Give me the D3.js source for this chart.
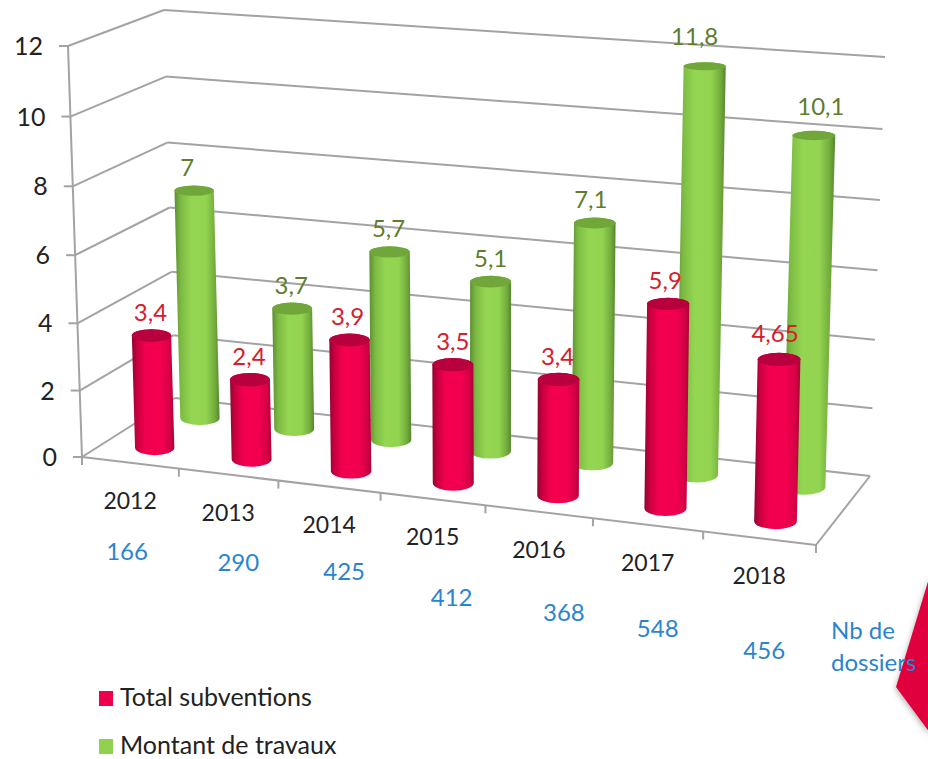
<!DOCTYPE html>
<html>
<head>
<meta charset="utf-8">
<script src="https://cdn.jsdelivr.net/npm/d3@7"></script>
<style>
  html, body { margin: 0; padding: 0; background: #fff; }
  text { font-family: Lato, "Open Sans", sans-serif; }
</style>
</head>
<body>
<div id="chart"></div>
<script>
// data
var years = ["2012", "2013", "2014", "2015", "2016", "2017", "2018"];
var subventions = [3.4, 2.4, 3.9, 3.5, 3.4, 5.9, 4.65];
var travaux = [7, 3.7, 5.7, 5.1, 7.1, 11.8, 10.1];
var dossiers = [166, 290, 425, 412, 368, 548, 456];
var valueTicks = [0, 2, 4, 6, 8, 10, 12];
var legendLabels = ["Total subventions", "Montant de travaux"];

var width = 928, height = 759;

// corners of the 3D box as they land on the page: [floor, top]
var box = {
  frontLeft:  [[82, 457], [68, 46]],
  frontRight: [[816, 545], [826, 113]],
  backLeft:   [[175, 398], [164, 10]],
  backRight:  [[870, 476], [885, 57]]
};

var x = d3.scaleBand().domain(years).range([0, 1]);
var y = d3.scaleLinear().domain([0, 12]).range([0, 1]);

function lerp(a, b, t) { return a + (b - a) * t; }
function lerp2(a, b, t) { return [lerp(a[0], b[0], t), lerp(a[1], b[1], t)]; }

// u along the years, d into the depth, v value
function project(u, d, v) {
  var s = u + 0.089 * u * (u - 1); // perspective: bands get wider to the right
  var h = y(v);
  h = h + 0.036 * h * (h - 1);     // same for the height, a bit taller near the top
  var front = [lerp2(box.frontLeft[0], box.frontRight[0], s), lerp2(box.frontLeft[1], box.frontRight[1], s)];
  var back = [lerp2(box.backLeft[0], box.backRight[0], s), lerp2(box.backLeft[1], box.backRight[1], s)];
  return lerp2(lerp2(front[0], back[0], d), lerp2(front[1], back[1], d), h);
}

function bandMid(year) { return x(year) + x.bandwidth() / 2; }

var svg = d3.select("#chart")
  .append("svg")
    .attr("width", width)
    .attr("height", height)
    .style("display", "block");

var defs = svg.append("defs");

function addGradient(id, stops) {
  var g = defs.append("linearGradient").attr("id", id);
  stops.forEach(function(s) {
    g.append("stop").attr("offset", s[0]).attr("stop-color", s[1]);
  });
}
addGradient("redBody", [[0, "#8e0434"], [0.12, "#c8003f"], [0.32, "#f2004f"], [0.7, "#f2004f"], [0.9, "#d40046"], [1, "#a80038"]]);
addGradient("greenBody", [[0, "#5c8e30"], [0.14, "#7cba42"], [0.38, "#94d652"], [0.7, "#92d450"], [0.9, "#72ab3c"], [1, "#558530"]]);

var shadow = defs.append("filter").attr("id", "shapeShadow")
  .attr("x", "-30%").attr("y", "-30%").attr("width", "160%").attr("height", "160%");
shadow.append("feDropShadow")
  .attr("dx", 0).attr("dy", 2).attr("stdDeviation", 3)
  .attr("flood-color", "#000").attr("flood-opacity", 0.35);

// red slide decoration on the right edge
svg.append("polygon")
  .attr("points", "930,575 896,687 930,733")
  .attr("fill", "#e0003c")
  .attr("filter", "url(#shapeShadow)");

var lineColor = "#a3a3a3";
var lines = svg.append("g")
  .attr("stroke", lineColor)
  .attr("stroke-width", 2)
  .attr("fill", "none");

function drawLine(a, b) {
  lines.append("line")
    .attr("x1", a[0]).attr("y1", a[1])
    .attr("x2", b[0]).attr("y2", b[1]);
}

// gridlines on the left wall and the back wall
valueTicks.forEach(function(v) {
  drawLine(project(0, 0, v), project(0, 1, v));
  drawLine(project(0, 1, v), project(1, 1, v));
  var p = project(0, 0, v);
  drawLine([p[0] - 9, p[1]], p);
});

// value axis, floor front edge and right edge
drawLine(project(0, 0, 0), project(0, 0, 12));
drawLine(project(0, 0, 0), project(1, 0, 0));
drawLine(project(1, 0, 0), project(1, 1, 0));

// category ticks
years.concat(["end"]).forEach(function(year, i) {
  var p = project(i / years.length, 0, 0);
  drawLine(p, [p[0], p[1] + 8]);
});

// value axis labels
svg.append("g").selectAll("text")
  .data(valueTicks)
  .enter()
  .append("text")
    .attr("x", function(d) { return project(0, 0, d)[0] - 25; })
    .attr("y", function(d) { return project(0, 0, d)[1] + 9; })
    .attr("text-anchor", "end")
    .attr("font-size", 25)
    .attr("fill", "#222")
    .text(function(d) { return d; });

function ry(py) { return 4 + (py - 60) * 4 / 460; }
function rx(u) { return 19.5 + 2 * u; }

// one cylinder per year, d is the row depth inside the box
function drawSeries(values, depth, bodyFill, topFill) {
  var group = svg.append("g").attr("transform", "translate(2,0)");
  years.forEach(function(year, i) {
    var u = bandMid(year);
    var b = project(u, depth, 0);
    var t = project(u, depth, values[i]);
    var r = rx(u), rb = ry(b[1]), rt = ry(t[1]);
    group.append("path")
      .attr("d", "M" + (t[0] - r) + "," + t[1] +
        "L" + (b[0] - r) + "," + b[1] +
        "A" + r + "," + rb + " 0 0 0 " + (b[0] + r) + "," + b[1] +
        "L" + (t[0] + r) + "," + t[1] +
        "A" + r + "," + rt + " 0 0 0 " + (t[0] - r) + "," + t[1] + "Z")
      .attr("fill", bodyFill);
    group.append("ellipse")
      .attr("cx", t[0]).attr("cy", t[1])
      .attr("rx", r).attr("ry", rt)
      .attr("fill", topFill);
  });
}

var redDepth = 0.25, greenDepth = 0.75;
drawSeries(travaux, greenDepth, "url(#greenBody)", "#70a63a");
drawSeries(subventions, redDepth, "url(#redBody)", "#b8003e");

function comma(v) { return String(v).replace(".", ","); }

// data labels sit above the cylinder tops, a few were moved by hand in the original
var greenNudge = [-5, 1, 1, 2, -2, -8, 9];
var redNudge = [1, 1, 0, 2, 1, -1, -2];
var greenLift = [0, 0, 0, 0, 0, 6, 6];
var redLift = [0, 0, 0, 0, 0, 0, 2];

function drawLabels(values, depth, color, nudge, lift) {
  svg.append("g").selectAll("text")
    .data(values)
    .enter()
    .append("text")
      .attr("x", function(d, i) { return project(bandMid(years[i]), depth, d)[0] + nudge[i]; })
      .attr("y", function(d, i) { return project(bandMid(years[i]), depth, d)[1] - 15 - lift[i]; })
      .attr("text-anchor", "middle")
      .attr("font-size", 24)
      .attr("fill", color)
      .text(comma);
}
drawLabels(travaux, greenDepth, "#5f7d2c", greenNudge, greenLift);
drawLabels(subventions, redDepth, "#d5202c", redNudge, redLift);

// year labels under the front edge
svg.append("g").selectAll("text")
  .data(years)
  .enter()
  .append("text")
    .attr("x", function(d) { return project(bandMid(d), 0, 0)[0]; })
    .attr("y", function(d) { return project(bandMid(d), 0, 0)[1] + 46; })
    .attr("text-anchor", "middle")
    .attr("font-size", 23)
    .attr("fill", "#222")
    .text(function(d) { return d; });

// number of files, free text boxes in the original
var dossierDx = [-3, 10, 15, 19, 25, 10, 5];
var dossierDy = [97, 96, 93, 107, 109, 112, 121];
svg.append("g").selectAll("text")
  .data(dossiers)
  .enter()
  .append("text")
    .attr("x", function(d, i) { return project(bandMid(years[i]), 0, 0)[0] + dossierDx[i]; })
    .attr("y", function(d, i) { return project(bandMid(years[i]), 0, 0)[1] + dossierDy[i]; })
    .attr("text-anchor", "middle")
    .attr("font-size", 24)
    .attr("fill", "#2b84d0")
    .text(function(d) { return d; });

var note = svg.append("text")
  .attr("font-size", 24)
  .attr("fill", "#2b84d0");
note.append("tspan").attr("x", 831).attr("y", 639).text("Nb de");
note.append("tspan").attr("x", 831).attr("y", 671).text("dossiers");

// legend
var legendColors = ["#ee004e", "#92d050"];
var legend = svg.append("g").selectAll("g")
  .data(legendLabels)
  .enter()
  .append("g")
    .attr("transform", function(d, i) { return "translate(99," + (691 + i * 48) + ")"; });
legend.append("rect")
  .attr("width", 14)
  .attr("height", 15)
  .attr("fill", function(d, i) { return legendColors[i]; });
legend.append("text")
  .attr("x", 21)
  .attr("y", 15)
  .attr("font-size", 25)
  .attr("fill", "#222")
  .text(function(d) { return d; });
</script>
</body>
</html>
